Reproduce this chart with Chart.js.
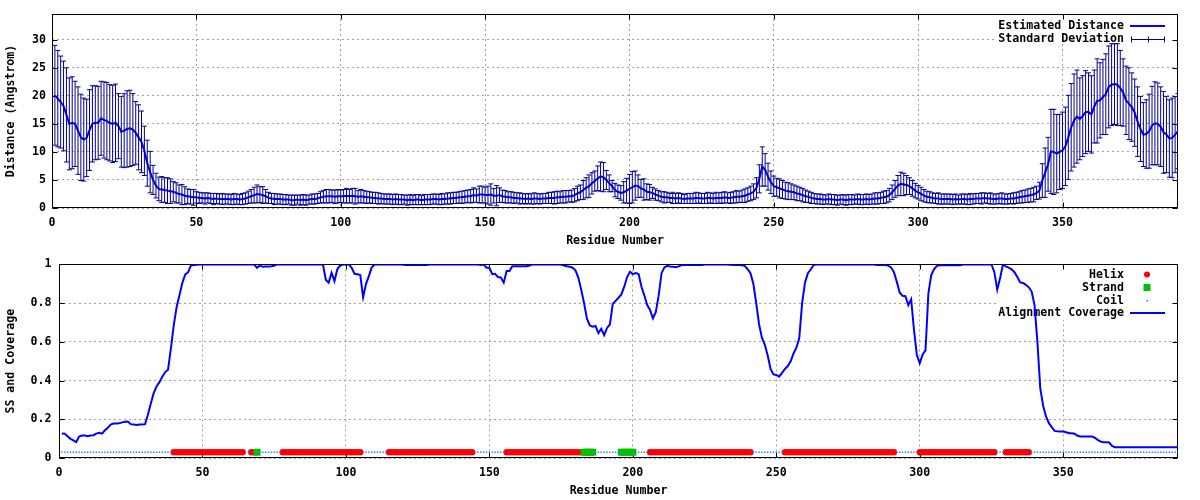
<!DOCTYPE html>
<html>
<head>
<meta charset="utf-8">
<title>Estimated distance and alignment coverage</title>
<script src="https://cdn.jsdelivr.net/npm/chart.js"></script>
<style>
  html, body { margin: 0; padding: 0; background: #fff; }
  canvas { display: block; }
</style>
</head>
<body>
<canvas id="distChart" width="1200" height="250"></canvas>
<canvas id="ssChart" width="1200" height="250"></canvas>
<script>
// ---- DATA (one value per residue, 1..390) ----
const distance = [
  20.1, 19.5, 18.9, 18.2, 16.6, 15.0, 15.2, 15.0, 13.8, 12.6,   // 1-10
  12.2, 12.5, 13.9, 15.0, 15.2, 15.2, 16.0, 15.7, 15.5, 15.2,
  15.0, 15.2, 14.6, 13.6, 13.8, 14.1, 14.2, 14.0, 13.4, 12.6,
  11.8, 10.2, 8.0, 6.4, 5.0, 4.0, 3.4, 3.3, 3.2, 3.1,
  3.0, 2.9, 2.7, 2.5, 2.4, 2.2, 2.1, 2.0, 1.9, 1.9,             // 41-50
  1.8, 1.8, 1.7, 1.8, 1.7, 1.6, 1.7, 1.6, 1.6, 1.6,
  1.6, 1.5, 1.6, 1.6, 1.5, 1.6, 1.7, 1.9, 2.1, 2.3,
  2.5, 2.4, 2.3, 2.1, 1.8, 1.7, 1.6, 1.6, 1.6, 1.5,
  1.5, 1.5, 1.4, 1.4, 1.5, 1.4, 1.5, 1.4, 1.5, 1.6,
  1.6, 1.7, 1.9, 2.0, 2.1, 2.1, 2.1, 2.0, 2.1, 2.1,             // 91-100
  2.1, 2.2, 2.1, 2.2, 2.1, 2.0, 2.1, 2.0, 1.9, 1.9,
  1.8, 1.8, 1.7, 1.7, 1.6, 1.6, 1.6, 1.5, 1.6, 1.5,
  1.5, 1.5, 1.4, 1.5, 1.4, 1.5, 1.5, 1.4, 1.5, 1.5,
  1.5, 1.6, 1.6, 1.5, 1.6, 1.6, 1.7, 1.7, 1.8, 1.8,
  1.9, 1.9, 2.0, 2.1, 2.1, 2.3, 2.2, 2.4, 2.4, 2.3,             // 141-150
  2.3, 2.4, 2.2, 2.2, 2.3, 2.1, 2.0, 1.9, 1.9, 1.8,
  1.8, 1.7, 1.7, 1.6, 1.7, 1.6, 1.7, 1.7, 1.6, 1.7,
  1.7, 1.8, 1.8, 1.8, 1.9, 1.9, 2.0, 2.0, 2.1, 2.1,
  2.3, 2.6, 2.8, 3.2, 3.6, 3.9, 4.4, 4.8, 5.3, 5.6,
  5.5, 5.0, 4.4, 3.9, 3.2, 2.9, 2.7, 2.8, 3.1, 3.4,             // 191-200
  3.7, 4.0, 3.9, 3.5, 3.3, 2.9, 2.8, 2.7, 2.4, 2.2,
  2.0, 1.9, 1.9, 1.8, 1.8, 1.7, 1.8, 1.7, 1.6, 1.7,
  1.7, 1.7, 1.8, 1.8, 1.7, 1.7, 1.8, 1.8, 1.7, 1.8,
  1.8, 1.8, 1.9, 1.8, 1.8, 1.9, 2.0, 2.0, 2.1, 2.2,
  2.4, 2.6, 2.9, 3.6, 5.2, 7.4, 6.8, 5.6, 4.6, 3.9,             // 241-250
  3.7, 3.5, 3.3, 3.1, 3.0, 2.9, 2.8, 2.6, 2.5, 2.3,
  2.1, 2.0, 1.8, 1.7, 1.6, 1.6, 1.5, 1.5, 1.6, 1.5,
  1.5, 1.4, 1.5, 1.5, 1.4, 1.5, 1.5, 1.5, 1.6, 1.5,
  1.5, 1.6, 1.5, 1.6, 1.7, 1.7, 1.8, 1.9, 2.0, 2.3,
  2.8, 3.4, 4.0, 4.3, 4.2, 4.1, 3.9, 3.5, 3.1, 2.8,             // 291-300
  2.5, 2.2, 2.0, 1.9, 1.8, 1.7, 1.7, 1.6, 1.6, 1.6,
  1.6, 1.5, 1.6, 1.5, 1.6, 1.6, 1.5, 1.6, 1.6, 1.7,
  1.7, 1.7, 1.8, 1.7, 1.7, 1.6, 1.6, 1.7, 1.7, 1.6,
  1.6, 1.7, 1.7, 1.8, 1.9, 2.0, 2.1, 2.2, 2.3, 2.4,
  2.7, 3.1, 4.9, 6.3, 7.8, 10.1, 10.0, 9.7, 10.0, 10.3,         // 341-350
  11.0, 12.6, 14.4, 15.6, 16.3, 15.9, 16.4, 17.1, 17.1, 16.7,
  18.1, 19.1, 19.2, 19.8, 20.3, 21.6, 22.0, 22.1, 22.0, 21.4,
  20.6, 19.2, 18.6, 18.0, 17.0, 15.4, 14.1, 13.1, 13.2, 13.7,
  14.7, 15.1, 15.0, 14.5, 13.5, 13.1, 12.4, 12.5, 13.1, 13.7    // 381-390
];

const stdDev = [
  8.9, 8.6, 8.2, 8.0, 8.4, 8.2, 8.2, 7.6, 7.8, 7.7,
  7.4, 6.9, 7.2, 6.8, 6.6, 6.5, 6.6, 6.8, 6.9, 6.8,
  6.9, 6.9, 5.8, 6.3, 6.6, 6.8, 6.8, 6.4, 5.6, 5.8,
  5.5, 4.4, 4.1, 3.7, 2.6, 2.2, 2.1, 2.3, 2.2, 2.3,
  2.2, 1.8, 1.8, 1.6, 1.8, 1.6, 1.3, 1.3, 1.4, 1.0,
  1.0, 0.9, 1.0, 0.9, 0.9, 1.0, 0.9, 0.9, 1.0, 0.9,
  0.9, 0.9, 1.0, 0.9, 0.9, 1.0, 1.0, 1.1, 1.2, 1.4,
  1.6, 1.4, 1.5, 1.2, 1.0, 0.9, 1.0, 0.9, 0.9, 0.9,
  0.9, 0.8, 0.9, 0.9, 0.8, 0.9, 0.9, 0.9, 0.8, 0.9,
  0.9, 0.9, 1.0, 1.1, 1.2, 1.2, 1.1, 1.2, 1.2, 1.1,
  1.2, 1.3, 1.2, 1.3, 1.4, 1.1, 1.2, 1.1, 1.1, 1.0,
  1.0, 1.0, 1.0, 0.9, 0.9, 0.9, 0.9, 0.9, 0.9, 0.9,
  0.9, 0.8, 0.9, 0.9, 0.8, 0.9, 0.9, 0.8, 0.9, 0.9,
  0.9, 0.9, 0.9, 0.9, 1.0, 0.9, 1.0, 1.0, 1.0, 1.0,
  1.0, 1.1, 1.1, 1.1, 1.2, 1.3, 1.2, 1.5, 1.5, 1.4,
  1.6, 1.9, 1.3, 1.8, 1.3, 1.1, 1.1, 1.0, 1.0, 1.0,
  0.9, 1.0, 0.9, 0.9, 0.9, 0.9, 1.0, 0.9, 0.9, 0.9,
  0.9, 1.0, 1.0, 1.1, 1.1, 1.0, 1.1, 1.1, 1.0, 1.1,
  1.2, 1.3, 1.3, 1.7, 1.8, 2.0, 1.9, 1.8, 2.2, 2.6,
  2.6, 1.7, 1.5, 1.0, 1.2, 1.2, 1.3, 1.9, 2.2, 2.6,
  2.8, 2.6, 2.0, 1.6, 1.9, 1.4, 1.4, 1.0, 1.0, 0.9,
  0.9, 1.0, 0.9, 0.8, 1.0, 0.9, 0.9, 0.9, 0.8, 0.9,
  0.9, 0.9, 1.0, 0.9, 0.9, 0.9, 1.0, 0.9, 0.9, 1.0,
  0.9, 1.0, 1.0, 0.9, 1.0, 1.0, 1.1, 1.0, 1.1, 1.2,
  1.2, 1.3, 1.4, 1.8, 2.5, 3.5, 2.9, 2.4, 2.0, 1.8,
  1.6, 1.7, 1.6, 1.5, 1.5, 1.4, 1.3, 1.3, 1.2, 1.2,
  1.1, 1.0, 1.0, 0.9, 0.9, 0.9, 0.9, 0.8, 0.9, 0.9,
  0.9, 0.9, 0.8, 0.9, 0.9, 0.9, 0.9, 0.8, 0.9, 0.9,
  0.9, 0.9, 0.9, 0.9, 1.0, 1.0, 1.0, 1.1, 1.1, 1.2,
  1.3, 1.5, 1.8, 2.1, 2.0, 1.7, 1.5, 1.4, 1.3, 1.2,
  1.2, 1.1, 1.0, 1.0, 0.9, 0.9, 1.0, 0.9, 0.9, 0.9,
  0.9, 0.9, 0.9, 0.8, 0.9, 0.9, 0.9, 1.0, 0.9, 0.9,
  0.9, 1.0, 0.9, 0.9, 1.0, 0.9, 0.9, 0.9, 1.0, 0.9,
  0.9, 0.9, 1.0, 1.0, 1.0, 1.1, 1.1, 1.2, 1.2, 1.3,
  1.2, 1.5, 3.0, 4.4, 4.8, 7.5, 7.6, 7.0, 6.7, 6.8,
  7.0, 7.5, 7.8, 8.3, 8.3, 7.3, 7.2, 7.4, 7.0, 6.9,
  6.5, 7.5, 6.7, 6.7, 7.2, 7.3, 7.3, 7.2, 7.3, 6.7,
  6.0, 6.1, 6.4, 6.1, 6.0, 6.2, 5.8, 5.7, 6.1, 6.6,
  7.0, 7.4, 7.3, 7.1, 7.3, 6.8, 6.9, 7.1, 6.8, 6.7
];

const coverage = [
  0.126, 0.125, 0.112, 0.099, 0.091, 0.082, 0.111, 0.116, 0.116, 0.113,
  0.116, 0.118, 0.126, 0.130, 0.126, 0.143, 0.156, 0.173, 0.178, 0.178,
  0.179, 0.184, 0.187, 0.188, 0.175, 0.173, 0.171, 0.173, 0.173, 0.175,
  0.225, 0.282, 0.335, 0.370, 0.392, 0.420, 0.444, 0.456, 0.566, 0.687,
  0.780, 0.842, 0.905, 0.949, 0.960, 0.995, 0.997, 0.998, 1, 1,
  1, 1, 1, 1, 1, 1, 1, 1, 1, 1,
  1, 1, 1, 1, 1, 1, 1, 1, 0.983, 0.995,
  0.988, 0.990, 0.990, 0.991, 0.993, 1, 1, 1, 1, 1,
  1, 1, 1, 1, 1, 1, 1, 1, 1, 1,
  1, 1, 0.920, 0.906, 0.957, 0.914, 0.975, 0.995, 1, 1,
  1, 0.983, 0.952, 0.949, 0.945, 0.830, 0.900, 0.940, 0.985, 1,
  1, 1, 1, 1, 1, 1, 1, 1, 1, 0.998,
  0.997, 0.997, 0.997, 0.997, 0.997, 0.997, 0.997, 0.997, 1, 1,
  1, 1, 1, 1, 1, 1, 1, 1, 1, 1,
  1, 1, 1, 1, 1, 1, 0.997, 1, 0.983, 0.983,
  0.950, 0.952, 0.935, 0.932, 0.906, 0.966, 0.966, 0.991, 0.991, 0.991,
  0.991, 0.991, 0.991, 0.995, 1, 1, 1, 1, 1, 1,
  1, 1, 1, 1, 1, 0.995, 0.991, 0.988, 0.983, 0.970,
  0.932, 0.870, 0.800, 0.720, 0.685, 0.678, 0.682, 0.645, 0.668, 0.635,
  0.672, 0.690, 0.796, 0.812, 0.828, 0.845, 0.885, 0.935, 0.962, 0.950,
  0.955, 0.950, 0.885, 0.840, 0.790, 0.765, 0.722, 0.753, 0.840, 0.955,
  0.985, 0.993, 0.990, 0.988, 0.986, 0.990, 0.997, 0.997, 0.997, 0.997,
  0.997, 0.997, 0.997, 0.997, 1, 1, 1, 1, 1, 1,
  1, 1, 1, 0.999, 0.997, 0.997, 0.997, 0.996, 0.993, 0.976,
  0.955, 0.900, 0.800, 0.690, 0.620, 0.585, 0.530, 0.460, 0.432, 0.429,
  0.420, 0.440, 0.460, 0.475, 0.500, 0.540, 0.570, 0.620, 0.800, 0.906,
  0.955, 0.974, 0.997, 1, 1, 1, 1, 1, 1, 1,
  1, 1, 1, 1, 1, 1, 1, 1, 1, 1,
  1, 1, 1, 1, 0.997, 0.997, 0.997, 0.997, 0.994, 0.985,
  0.960, 0.910, 0.855, 0.838, 0.836, 0.790, 0.820, 0.660, 0.530, 0.490,
  0.535, 0.556, 0.850, 0.945, 0.976, 0.993, 0.996, 0.996, 0.996, 0.996,
  0.996, 0.996, 0.996, 0.996, 1, 1, 1, 1, 1, 1,
  1, 1, 1, 1, 1, 0.960, 0.870, 0.930, 1, 0.990,
  0.984, 0.975, 0.960, 0.935, 0.907, 0.904, 0.895, 0.882, 0.860, 0.790,
  0.600, 0.360, 0.270, 0.215, 0.180, 0.160, 0.140, 0.138, 0.137, 0.137,
  0.133, 0.128, 0.128, 0.125, 0.115, 0.111, 0.111, 0.111, 0.111, 0.111,
  0.105, 0.094, 0.085, 0.082, 0.082, 0.080, 0.062, 0.056, 0.056, 0.056,
  0.056, 0.056, 0.056, 0.056, 0.056, 0.056, 0.056, 0.056, 0.056, 0.056,
  0.056, 0.056, 0.056, 0.056, 0.056, 0.056, 0.056, 0.056, 0.056, 0.056
];

// secondary structure per residue: H helix, E strand, C coil
const ssSegments = [
  'CCCCCCCCCC', 'CCCCCCCCCC', 'CCCCCCCCCC', 'CCCCCCCCCH', 'HHHHHHHHHH',   // 1-50
  'HHHHHHHHHH', 'HHHHCCHHEC', 'CCCCCCCHHH', 'HHHHHHHHHH', 'HHHHHHHHHH',   // 51-100
  'HHHHHCCCCC', 'CCCCHHHHHH', 'HHHHHHHHHH', 'HHHHHHHHHH', 'HHHHCCCCCC',   // 101-150
  'CCCCCHHHHH', 'HHHHHHHHHH', 'HHHHHHHHHH', 'HHEEEECCCC', 'CCCCCEEEEE',   // 151-200
  'CCCCCHHHHH', 'HHHHHHHHHH', 'HHHHHHHHHH', 'HHHHHHHHHH', 'HCCCCCCCCC',   // 201-250
  'CCHHHHHHHH', 'HHHHHHHHHH', 'HHHHHHHHHH', 'HHHHHHHHHH', 'HCCCCCCCCH',   // 251-300
  'HHHHHHHHHH', 'HHHHHHHHHH', 'HHHHHHCCCH', 'HHHHHHHHCC', 'CCCCCCCCCC',   // 301-350
  'CCCCCCCCCC', 'CCCCCCCCCC', 'CCCCCCCCCC', 'CCCCCCCCCC'                  // 351-390
];
const ssLevel = 0.03;

const xTicks = [0, 50, 100, 150, 200, 250, 300, 350];
const distTicks = [0, 5, 10, 15, 20, 25, 30];
const coverageTicks = [0, 0.2, 0.4, 0.6, 0.8, 1];

// ---- helpers ----
const secondaryStructure = ssSegments.join('');
const residues = distance.map((_, i) => i + 1);

const FONT = { family: '"DejaVu Sans Mono", monospace', size: 11.6, weight: 'bold' };
const FONT_CSS = 'bold 11.6px "DejaVu Sans Mono", monospace';
const GRID = { color: '#a0a0a0', lineWidth: 1, drawTicks: false, offset: false };

function ssPoints(code) {
    const pts = [];
    for (let i = 0; i < secondaryStructure.length; i++) {
        if (secondaryStructure[i] === code) pts.push({ x: residues[i], y: ssLevel });
    }
    return pts;
}

function xScale(height) {
    return {
        type: 'linear', min: 0, max: 390, offset: false,
        afterBuildTicks: s => { s.ticks = xTicks.map(v => ({ value: v })); },
        afterFit: s => { s.height = height; },
        grid: GRID,
        border: { display: false, dash: [2, 3] },
        ticks: { font: FONT, color: '#000', padding: 8, maxRotation: 0, autoSkip: false, callback: v => String(v) },
        title: { display: true, text: 'Residue Number', font: FONT, color: '#000', padding: { top: 0, bottom: 2 } }
    };
}

function yScale(max, ticks, width, pad, label) {
    return {
        type: 'linear', min: 0, max: max,
        afterBuildTicks: s => { s.ticks = ticks.map(v => ({ value: v })); },
        afterFit: s => { s.width = width; },
        grid: GRID,
        border: { display: false, dash: [2, 3] },
        ticks: { font: FONT, color: '#000', padding: pad, autoSkip: false, callback: v => String(v) },
        title: { display: true, text: label, font: FONT, color: '#000', padding: { top: 4, bottom: 0 } }
    };
}

// Border box with inward ticks + opaque key (gnuplot look)
function frameAndKey(yTicks, boxBottom, keys) {
    return {
        id: 'frameAndKey',
        beforeDatasetsDraw(chart) {
            const ctx = chart.ctx;
            const a = chart.chartArea;
            const xs = chart.scales.x, ys = chart.scales.y;
            ctx.save();

            ctx.fillStyle = '#fff';
            ctx.fillRect(997, a.top, a.right - 997, boxBottom - a.top);

            const L = Math.round(a.left) + 0.5, R = Math.round(a.right) - 0.5;
            const T = Math.round(a.top) + 0.5, B = Math.round(a.bottom) - 0.5;
            ctx.strokeStyle = '#000';
            ctx.lineWidth = 1;
            ctx.strokeRect(L, T, R - L, B - T);
            ctx.beginPath();
            xTicks.forEach(v => {
                const px = Math.round(xs.getPixelForValue(v)) + 0.5;
                ctx.moveTo(px, B); ctx.lineTo(px, B - 5);
                ctx.moveTo(px, T); ctx.lineTo(px, T + 5);
            });
            yTicks.forEach(v => {
                const py = Math.round(ys.getPixelForValue(v)) + 0.5;
                ctx.moveTo(L, py); ctx.lineTo(L + 5, py);
                ctx.moveTo(R, py); ctx.lineTo(R - 5, py);
            });
            ctx.stroke();

            ctx.font = FONT_CSS;
            ctx.textAlign = 'right';
            ctx.textBaseline = 'middle';
            keys.forEach(k => {
                ctx.fillStyle = '#000';
                ctx.fillText(k.text, 1124, k.y);
                k.sample(ctx, k.y);
            });
            ctx.restore();
        }
    };
}

function lineSample(color, width) {
    return (ctx, y) => {
        ctx.strokeStyle = color; ctx.lineWidth = width;
        ctx.beginPath(); ctx.moveTo(1130, y); ctx.lineTo(1165, y); ctx.stroke();
    };
}

// ---- TOP: estimated distance with standard deviation ----
const caps = [];
residues.forEach((r, i) => {
    caps.push({ x: r, y: distance[i] + stdDev[i] });
    caps.push({ x: r, y: distance[i] - stdDev[i] });
});

new Chart(document.getElementById('distChart'), {
    type: 'line',
    data: {
        datasets: [
            {
                label: 'Estimated Distance',
                data: residues.map((r, i) => ({ x: r, y: distance[i] })),
                borderColor: '#0000ff', borderWidth: 2, pointRadius: 0, tension: 0, order: 2
            },
            {
                type: 'bar',
                label: 'Standard Deviation',
                data: residues.map((r, i) => ({ x: r, y: [distance[i] - stdDev[i], distance[i] + stdDev[i]] })),
                backgroundColor: '#000090', borderWidth: 0, barThickness: 1, inflateAmount: 0, order: 1
            },
            {
                type: 'scatter',
                label: 'caps',
                data: caps,
                pointStyle: 'line', pointRadius: 2.5, pointBorderWidth: 1,
                pointBorderColor: '#000090', borderColor: '#000090', order: 0
            }
        ]
    },
    options: {
        responsive: false, animation: false, events: [],
        layout: { padding: { left: 0, right: 22, top: 14, bottom: 0 } },
        plugins: { legend: { display: false }, tooltip: { enabled: false } },
        scales: {
            x: xScale(42),
            y: yScale(34.6, distTicks, 52, 6, 'Distance (Angstrom)')
        }
    },
    plugins: [frameAndKey(distTicks, 44, [
        { text: 'Estimated Distance', y: 26, sample: lineSample('#0000ff', 2) },
        { text: 'Standard Deviation', y: 39, sample: (ctx, y) => {
            ctx.strokeStyle = '#000090'; ctx.lineWidth = 1;
            ctx.beginPath();
            ctx.moveTo(1131, y + 0.5); ctx.lineTo(1165, y + 0.5);
            [1131.5, 1148.5, 1164.5].forEach(x => { ctx.moveTo(x, y - 2.5); ctx.lineTo(x, y + 3.5); });
            ctx.stroke();
        } }
    ])]
});

// ---- BOTTOM: secondary structure and alignment coverage ----
new Chart(document.getElementById('ssChart'), {
    type: 'scatter',
    data: {
        datasets: [
            { label: 'Helix', data: ssPoints('H'), pointStyle: 'circle', pointRadius: 3.2,
              backgroundColor: '#ff0000', pointBorderWidth: 0, order: 3 },
            { label: 'Strand', data: ssPoints('E'), pointStyle: 'rect', pointRadius: 5,
              backgroundColor: '#00c000', pointBorderWidth: 0, order: 2 },
            { label: 'Coil', data: ssPoints('C'), pointStyle: 'rect', pointRadius: 1,
              backgroundColor: '#1a80ff', pointBorderWidth: 0, order: 1 },
            { type: 'line', label: 'Alignment Coverage',
              data: residues.map((r, i) => ({ x: r, y: coverage[i] })),
              borderColor: '#0000ff', borderWidth: 2, pointRadius: 0, tension: 0, order: 0 }
        ]
    },
    options: {
        responsive: false, animation: false, events: [],
        layout: { padding: { left: 0, right: 22, top: 13, bottom: 0 } },
        plugins: { legend: { display: false }, tooltip: { enabled: false } },
        scales: {
            x: xScale(42),
            y: yScale(1, coverageTicks, 59, 7.5, 'SS and Coverage')
        }
    },
    plugins: [frameAndKey(coverageTicks, 70, [
        { text: 'Helix', y: 24.5, sample: (ctx, y) => {
            ctx.fillStyle = '#ff0000'; ctx.beginPath(); ctx.arc(1147, y, 3, 0, Math.PI * 2); ctx.fill();
        } },
        { text: 'Strand', y: 37.5, sample: (ctx, y) => {
            ctx.fillStyle = '#00c000'; ctx.fillRect(1143.5, y - 3.5, 7, 7);
        } },
        { text: 'Coil', y: 50.5, sample: (ctx, y) => {
            ctx.fillStyle = '#1a80ff'; ctx.fillRect(1146.5, y - 0.5, 1.5, 1.5);
        } },
        { text: 'Alignment Coverage', y: 63, sample: lineSample('#0000ff', 2) }
    ])]
});
</script>
</body>
</html>
